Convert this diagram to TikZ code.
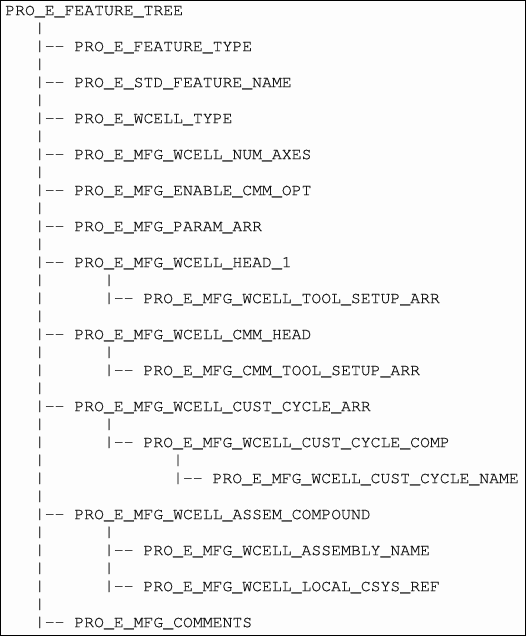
\documentclass[tikz,border=0pt]{standalone}
\usepackage{fontspec}
\setmonofont{texgyrecursor-regular.otf}[FakeBold=0.4]
\usepackage{graphicx}
\definecolor{ink}{HTML}{141414}
\definecolor{pipegray}{HTML}{858585}
\definecolor{pipepurple}{HTML}{7A3A78}
\definecolor{paper}{HTML}{FDFDFD}
\newsavebox\pipebox
\newcommand\pipeglyph[1]{\sbox\pipebox{\resizebox*{\width}{8.6pt}{|}}\raisebox{\dimexpr\dp\pipebox-0.75pt\relax}{\textcolor{#1}{\usebox\pipebox}}}
\newcommand\dashpair{\mbox{-}\mbox{-}}
\begin{document}
\begin{tikzpicture}[x=0.75pt,y=-0.75pt,
  txt/.style={inner sep=0pt, anchor=base west, font=\ttfamily\fontsize{12.35}{14}\selectfont, text=ink},
  lbl/.style={txt}]
\useasboundingbox (0,0) rectangle (527,637);
\fill[paper] (0,0) rectangle (527,637);
\draw[black, line width=0.75pt] (0.5,0.5) rectangle (525.8,635.6);
% root
\node[lbl] (tree) at ({5+0*9.87},{15.2+18*0}) {PRO\_E\_FEATURE\_TREE};
% main column pipes
\foreach \r in {1,...,34}
  \node[txt] (m\r) at ({5+3*9.87},{15.2+18*\r}) {\pipeglyph{pipegray}};
% main branch dashes
\foreach \r in {2,4,6,8,10,12,14,18,22,28,34}
  \node[txt] (d\r) at ({5+4*9.87},{15.2+18*\r}) {\dashpair};
% first level labels
\node[lbl] (ftype)    at ({5+7*9.87},{15.2+18*2})  {PRO\_E\_FEATURE\_TYPE};
\node[lbl] (stdname)  at ({5+7*9.87},{15.2+18*4})  {PRO\_E\_STD\_FEATURE\_NAME};
\node[lbl] (wtype)    at ({5+7*9.87},{15.2+18*6})  {PRO\_E\_WCELL\_TYPE};
\node[lbl] (axes)     at ({5+7*9.87},{15.2+18*8})  {PRO\_E\_MFG\_WCELL\_NUM\_AXES};
\node[lbl] (cmmopt)   at ({5+7*9.87},{15.2+18*10}) {PRO\_E\_MFG\_ENABLE\_CMM\_OPT};
\node[lbl] (param)    at ({5+7*9.87},{15.2+18*12}) {PRO\_E\_MFG\_PARAM\_ARR};
\node[lbl] (head)     at ({5+7*9.87},{15.2+18*14}) {PRO\_E\_MFG\_WCELL\_HEAD\_1};
\node[lbl] (cmmhead)  at ({5+7*9.87},{15.2+18*18}) {PRO\_E\_MFG\_WCELL\_CMM\_HEAD};
\node[lbl] (cycarr)   at ({5+7*9.87},{15.2+18*22}) {PRO\_E\_MFG\_WCELL\_CUST\_CYCLE\_ARR};
\node[lbl] (assem)    at ({5+7*9.87},{15.2+18*28}) {PRO\_E\_MFG\_WCELL\_ASSEM\_COMPOUND};
\node[lbl] (comments) at ({5+7*9.87},{15.2+18*34}) {PRO\_E\_MFG\_COMMENTS};
% second level pipes
\foreach \r in {15,16,19,20,23,24,29,30,31,32}
  \node[txt] (s\r) at ({5+10*9.87},{15.2+18*\r}) {\pipeglyph{pipegray}};
\foreach \r in {16,20,24,30,32}
  \node[txt] (e\r) at ({5+11*9.87},{15.2+18*\r}) {\dashpair};
% second level labels
\node[lbl] (toolsetup) at ({5+14*9.87},{15.2+18*16}) {PRO\_E\_MFG\_WCELL\_TOOL\_SETUP\_ARR};
\node[lbl] (cmmtool)   at ({5+14*9.87},{15.2+18*20}) {PRO\_E\_MFG\_CMM\_TOOL\_SETUP\_ARR};
\node[lbl] (cyccomp)   at ({5+14*9.87},{15.2+18*24}) {PRO\_E\_MFG\_WCELL\_CUST\_CYCLE\_COMP};
\node[lbl] (asmname)   at ({5+14*9.87},{15.2+18*30}) {PRO\_E\_MFG\_WCELL\_ASSEMBLY\_NAME};
\node[lbl] (csys)      at ({5+14*9.87},{15.2+18*32}) {PRO\_E\_MFG\_WCELL\_LOCAL\_CSYS\_REF};
% third level
\node[txt] (t25) at ({5+17*9.87},{15.2+18*25}) {\pipeglyph{pipepurple}};
\node[txt] (t26) at ({5+17*9.87},{15.2+18*26}) {\pipeglyph{pipepurple}};
\node[txt] (f26) at ({5+18*9.87},{15.2+18*26}) {\dashpair};
\node[lbl] (cycname) at ({5+21*9.87},{15.2+18*26}) {PRO\_E\_MFG\_WCELL\_CUST\_CYCLE\_NAME};
\end{tikzpicture}
\end{document}
